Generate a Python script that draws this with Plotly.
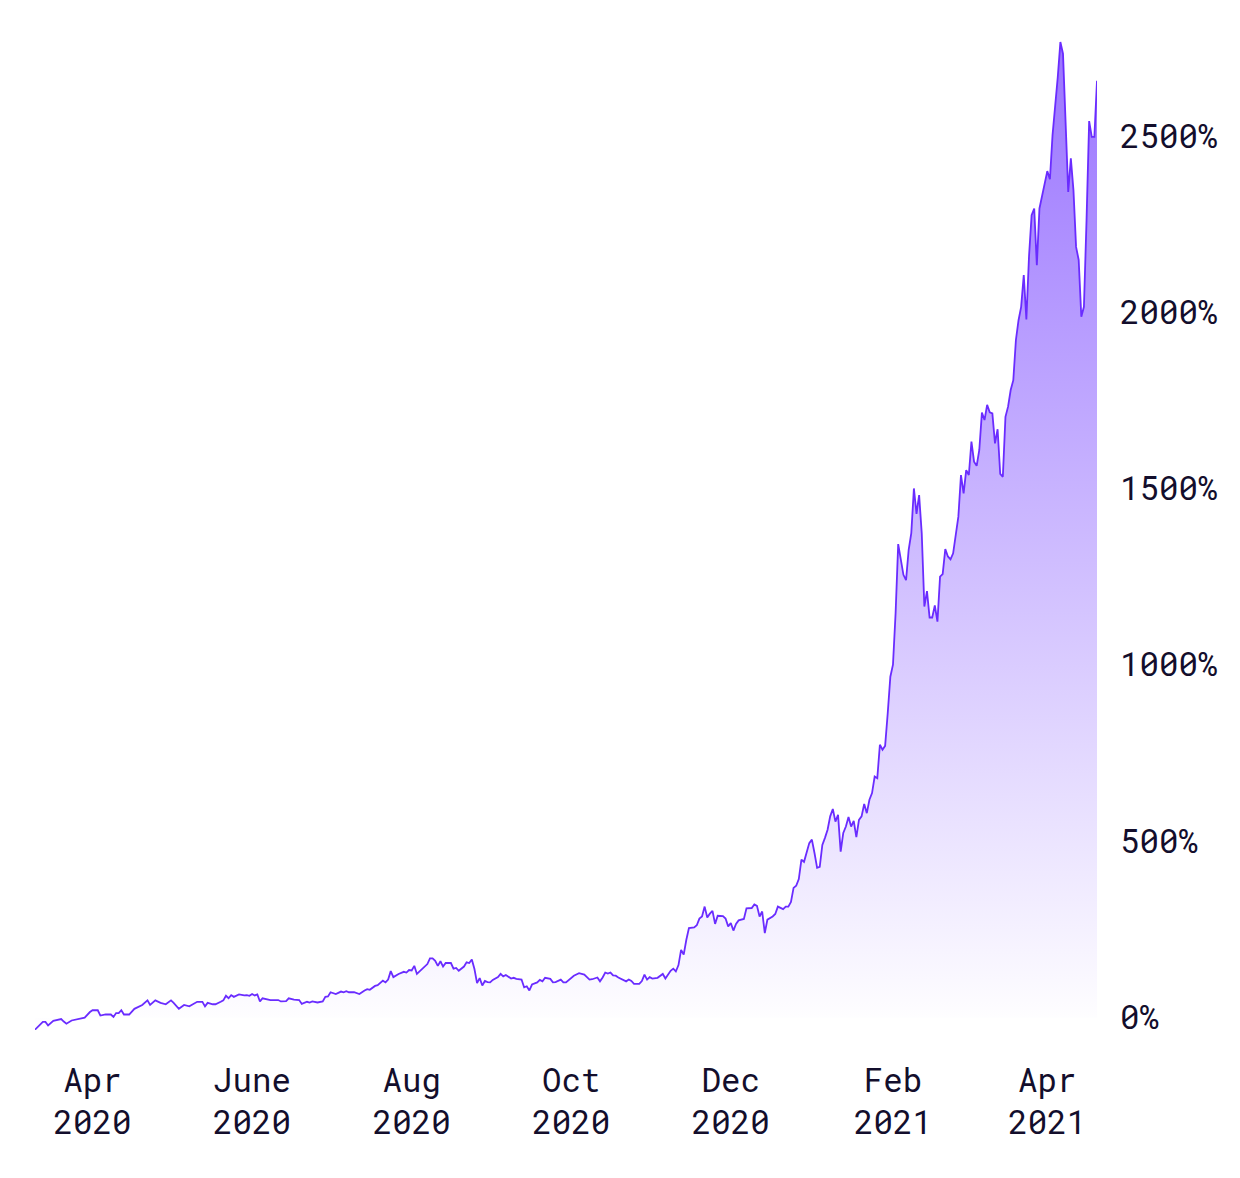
import plotly.graph_objects as go

dates = [
    "2020-03-10", "2020-03-13", "2020-03-14", "2020-03-15", "2020-03-17", "2020-03-20", "2020-03-21", "2020-03-22",
    "2020-03-24", "2020-03-27", "2020-03-29", "2020-03-31",
    "2020-04-01", "2020-04-03", "2020-04-04", "2020-04-06", "2020-04-08", "2020-04-09", "2020-04-10", "2020-04-11",
    "2020-04-12", "2020-04-13", "2020-04-15", "2020-04-17", "2020-04-18", "2020-04-20", "2020-04-22", "2020-04-23",
    "2020-04-25", "2020-04-27", "2020-04-29",
    "2020-05-01", "2020-05-02", "2020-05-04", "2020-05-06", "2020-05-08", "2020-05-11", "2020-05-13", "2020-05-14",
    "2020-05-15", "2020-05-17", "2020-05-18", "2020-05-20", "2020-05-21", "2020-05-22", "2020-05-23", "2020-05-24",
    "2020-05-25", "2020-05-27", "2020-05-29", "2020-05-30", "2020-05-31",
    "2020-06-01", "2020-06-02", "2020-06-03", "2020-06-04", "2020-06-05", "2020-06-07", "2020-06-08", "2020-06-11",
    "2020-06-12", "2020-06-14", "2020-06-15", "2020-06-17", "2020-06-19", "2020-06-20", "2020-06-22", "2020-06-23",
    "2020-06-24", "2020-06-26", "2020-06-28", "2020-06-29", "2020-06-30",
    "2020-07-01", "2020-07-03", "2020-07-05", "2020-07-06", "2020-07-07", "2020-07-08", "2020-07-10", "2020-07-12",
    "2020-07-14", "2020-07-15", "2020-07-16", "2020-07-18", "2020-07-19", "2020-07-20", "2020-07-21", "2020-07-22",
    "2020-07-23", "2020-07-24", "2020-07-25", "2020-07-27", "2020-07-28", "2020-07-29", "2020-07-30", "2020-07-31",
    "2020-08-01", "2020-08-02", "2020-08-03", "2020-08-05", "2020-08-07", "2020-08-08", "2020-08-09", "2020-08-10",
    "2020-08-11", "2020-08-12", "2020-08-13", "2020-08-14", "2020-08-15", "2020-08-16", "2020-08-17", "2020-08-18",
    "2020-08-19", "2020-08-21", "2020-08-22", "2020-08-23", "2020-08-24", "2020-08-25", "2020-08-26", "2020-08-27",
    "2020-08-28", "2020-08-29", "2020-08-30", "2020-08-31",
    "2020-09-01", "2020-09-03", "2020-09-04", "2020-09-05", "2020-09-06", "2020-09-08", "2020-09-09", "2020-09-10",
    "2020-09-12", "2020-09-13", "2020-09-14", "2020-09-15", "2020-09-16", "2020-09-18", "2020-09-19", "2020-09-20",
    "2020-09-21", "2020-09-23", "2020-09-24", "2020-09-25", "2020-09-27", "2020-09-28", "2020-09-29",
    "2020-10-01", "2020-10-02", "2020-10-04", "2020-10-06", "2020-10-08", "2020-10-09", "2020-10-11", "2020-10-12",
    "2020-10-13", "2020-10-14", "2020-10-15", "2020-10-16", "2020-10-17", "2020-10-18", "2020-10-19", "2020-10-21",
    "2020-10-22", "2020-10-23", "2020-10-24", "2020-10-25", "2020-10-27", "2020-10-28", "2020-10-29", "2020-10-30",
    "2020-10-31",
    "2020-11-01", "2020-11-03", "2020-11-05", "2020-11-06", "2020-11-08", "2020-11-09", "2020-11-10", "2020-11-11",
    "2020-11-12", "2020-11-13", "2020-11-14", "2020-11-15", "2020-11-17", "2020-11-18", "2020-11-19", "2020-11-20",
    "2020-11-21", "2020-11-22", "2020-11-23", "2020-11-24", "2020-11-25", "2020-11-26", "2020-11-28", "2020-11-29",
    "2020-11-30",
    "2020-12-01", "2020-12-02", "2020-12-03", "2020-12-04", "2020-12-06", "2020-12-07", "2020-12-09", "2020-12-10",
    "2020-12-11", "2020-12-12", "2020-12-13", "2020-12-14", "2020-12-15", "2020-12-17", "2020-12-18", "2020-12-19",
    "2020-12-21", "2020-12-22", "2020-12-23", "2020-12-24", "2020-12-25", "2020-12-26", "2020-12-27", "2020-12-28",
    "2020-12-29", "2020-12-31",
    "2021-01-01", "2021-01-02", "2021-01-03", "2021-01-04", "2021-01-05", "2021-01-06", "2021-01-07", "2021-01-08",
    "2021-01-09", "2021-01-10", "2021-01-11", "2021-01-12", "2021-01-13", "2021-01-14", "2021-01-15", "2021-01-16",
    "2021-01-17", "2021-01-18", "2021-01-19", "2021-01-20", "2021-01-21", "2021-01-22", "2021-01-23", "2021-01-24",
    "2021-01-25", "2021-01-26", "2021-01-27", "2021-01-28", "2021-01-29", "2021-01-30", "2021-01-31",
    "2021-02-01", "2021-02-02", "2021-02-03", "2021-02-04", "2021-02-05", "2021-02-06", "2021-02-07", "2021-02-08",
    "2021-02-09", "2021-02-10", "2021-02-11", "2021-02-12", "2021-02-13", "2021-02-14", "2021-02-15", "2021-02-16",
    "2021-02-17", "2021-02-18", "2021-02-19", "2021-02-20", "2021-02-21", "2021-02-22", "2021-02-23", "2021-02-24",
    "2021-02-26", "2021-02-27", "2021-02-28",
    "2021-03-01", "2021-03-02", "2021-03-03", "2021-03-04", "2021-03-05", "2021-03-06", "2021-03-07", "2021-03-08",
    "2021-03-09", "2021-03-10", "2021-03-11", "2021-03-12", "2021-03-13", "2021-03-14", "2021-03-15", "2021-03-16",
    "2021-03-17", "2021-03-18", "2021-03-19", "2021-03-20", "2021-03-21", "2021-03-22", "2021-03-23", "2021-03-24",
    "2021-03-25", "2021-03-26", "2021-03-27", "2021-03-28", "2021-03-29", "2021-03-30",
    "2021-04-01", "2021-04-02", "2021-04-03", "2021-04-05", "2021-04-06", "2021-04-07", "2021-04-08", "2021-04-09",
    "2021-04-10", "2021-04-11", "2021-04-12", "2021-04-13", "2021-04-14", "2021-04-15", "2021-04-16", "2021-04-17",
    "2021-04-18", "2021-04-19", "2021-04-20",
]

pct = [
    -34, -12, -12, -22, -9, -4, -11, -17,
    -8, -4, 0, 16,
    21, 21, 6, 9, 9, 2, 13, 13,
    21, 9, 9, 25, 28, 36, 49, 36,
    49, 42, 38,
    49, 42, 25, 36, 32, 45, 45, 32,
    42, 38, 38, 45, 49, 62, 55, 64,
    59, 66, 63, 64, 62,
    67, 63, 66, 46, 55, 53, 50, 50,
    46, 47, 55, 51, 50, 39, 45, 43,
    46, 43, 46, 59, 60,
    72, 67, 74, 72, 75, 72, 72, 67,
    77, 81, 79, 90, 92, 98, 105, 100,
    108, 132, 115, 124, 127, 130, 128, 135,
    134, 147, 124, 138, 152, 168, 168, 161,
    147, 160, 145, 155, 155, 155, 139, 141,
    133, 145, 157, 155, 165, 138, 98, 112,
    91, 104, 101, 100,
    107, 115, 124, 117, 121, 111, 113, 110,
    108, 86, 89, 77, 94, 100, 107, 103,
    113, 110, 100, 101, 108, 100, 100,
    111, 119, 126, 122, 108, 109, 114, 103,
    114, 128, 125, 128, 120, 119, 114, 108,
    103, 108, 104, 96, 96, 104, 122, 108,
    115,
    111, 113, 124, 111, 133, 139, 131, 149,
    192, 179, 221, 254, 256, 262, 281, 287,
    315, 284, 295, 303, 266, 289, 288, 281,
    259,
    268, 247, 266, 276, 280, 310, 311, 321,
    317, 287, 301, 240, 278, 287, 294, 315,
    308, 315, 315, 328, 368, 374, 393, 448,
    442, 495,
    505, 467, 425, 428, 490, 510, 533, 571,
    592, 556, 575, 471, 524, 542, 569, 542,
    558, 512, 561, 571, 606, 580, 618, 637,
    684, 679, 774, 760, 771, 864, 967,
    1001, 1147, 1343, 1298, 1256, 1241, 1327, 1374,
    1501, 1429, 1482, 1374, 1166, 1210, 1135, 1135,
    1169, 1123, 1251, 1258, 1329, 1308, 1300, 1317,
    1421, 1539, 1487,
    1553, 1539, 1634, 1577, 1565, 1610, 1716, 1695,
    1738, 1717, 1714, 1629, 1669, 1542, 1534, 1704,
    1733, 1780, 1808, 1922, 1978, 2016, 2106, 1980,
    2158, 2276, 2295, 2134, 2295, 2328,
    2401, 2378, 2503, 2668, 2767, 2734, 2545, 2342,
    2437, 2347, 2186, 2149, 1988, 2016, 2262, 2543,
    2498, 2498, 2657,
]

x_tick_dates = ["2020-04-01", "2020-06-01", "2020-08-01", "2020-10-01",
                "2020-12-01", "2021-02-01", "2021-04-01"]
x_tick_text = ["Apr<br>2020", "June<br>2020", "Aug<br>2020", "Oct<br>2020",
               "Dec<br>2020", "Feb<br>2021", "Apr<br>2021"]
y_tick_vals = [0, 500, 1000, 1500, 2000, 2500]
y_tick_text = ["0%", "500%", "1000%", "1500%", "2000%", "2500%"]

FONT = "Roboto Mono, DejaVu Sans Mono, Liberation Mono, monospace"
TEXT_COLOR = "#130e2c"
FONT_SIZE = 32.5

fig = go.Figure()
fig.add_trace(go.Scatter(
    x=dates, y=pct, mode="lines",
    line=dict(color="#6a2cff", width=1.8),
    fill="tozeroy",
    fillgradient=dict(type="vertical",
                      colorscale=[[0, "rgba(255,255,255,1)"], [1, "#9a74ff"]]),
    hoverinfo="skip",
))

fig.update_layout(
    width=1240, height=1178,
    margin=dict(l=27, r=151, t=33, b=156),
    paper_bgcolor="white", plot_bgcolor="white",
    showlegend=False,
    font=dict(family=FONT, size=FONT_SIZE, color=TEXT_COLOR),
    xaxis=dict(
        type="date", range=["2020-03-10", "2021-04-20"],
        tickmode="array", tickvals=x_tick_dates, ticktext=x_tick_text,
        showgrid=False, zeroline=False, showline=False, ticks="",
        ticklabelstandoff=28,
        tickfont=dict(family=FONT, size=FONT_SIZE, color=TEXT_COLOR),
    ),
    yaxis=dict(
        side="right", range=[-35, 2770],
        tickmode="array", tickvals=y_tick_vals, ticktext=y_tick_text,
        showgrid=False, zeroline=False, showline=False, ticks="",
        ticklabelstandoff=22,
        tickfont=dict(family=FONT, size=FONT_SIZE, color=TEXT_COLOR),
    ),
)

fig.write_html("out.html")
